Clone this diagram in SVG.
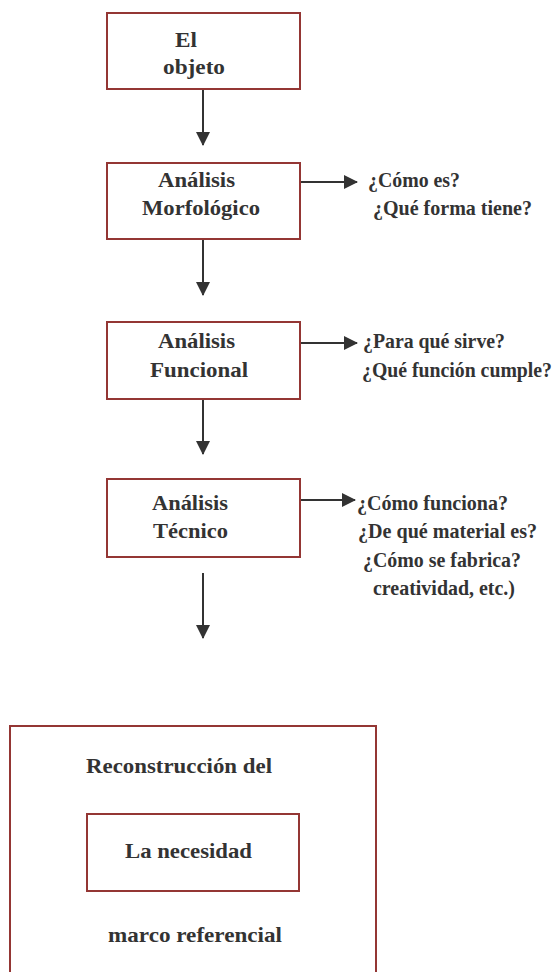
<svg xmlns="http://www.w3.org/2000/svg" width="560" height="972" viewBox="0 0 560 972">
<style>
.box{fill:none;stroke:#943634;stroke-width:2}
.t{font-family:"Liberation Serif","Times New Roman",serif;font-weight:bold;font-size:22px;fill:#333333}
.s{font-size:20px}
.c{stroke:#333333;stroke-width:2;fill:none}
</style>
<defs>
<marker id="ah" viewBox="0 0 14 14" refX="13" refY="7" markerWidth="14" markerHeight="14" markerUnits="userSpaceOnUse" orient="auto">
<path d="M0,0 L14,7 L0,14 Z" fill="#333333"/>
</marker>
</defs>
<rect width="560" height="972" fill="#ffffff"/>
<g id="connectors">
<line class="c" x1="203" y1="89" x2="203" y2="145" marker-end="url(#ah)"/>
<line class="c" x1="300" y1="182" x2="357" y2="182" marker-end="url(#ah)"/>
<line class="c" x1="203" y1="239" x2="203" y2="295" marker-end="url(#ah)"/>
<line class="c" x1="300" y1="343" x2="357" y2="343" marker-end="url(#ah)"/>
<line class="c" x1="203" y1="399" x2="203" y2="454" marker-end="url(#ah)"/>
<line class="c" x1="300" y1="500" x2="355" y2="500" marker-end="url(#ah)"/>
<line class="c" x1="203" y1="573" x2="203" y2="638" marker-end="url(#ah)"/>
</g>
<g id="n1">
<rect class="box" x="107" y="13" width="193" height="76"/>
<text class="t" x="175" y="47" textLength="22" lengthAdjust="spacingAndGlyphs">El</text>
<text class="t" x="163" y="74" textLength="62" lengthAdjust="spacingAndGlyphs">objeto</text>
</g>
<g id="n2">
<rect class="box" x="107" y="163" width="193" height="76"/>
<text class="t" x="158" y="187" textLength="77" lengthAdjust="spacingAndGlyphs">Análisis</text>
<text class="t" x="142" y="215" textLength="118" lengthAdjust="spacingAndGlyphs">Morfológico</text>
</g>
<g id="q2">
<text class="t" x="368" y="187" textLength="92" lengthAdjust="spacingAndGlyphs">¿Cómo es?</text>
<text class="t" x="373" y="215" textLength="159" lengthAdjust="spacingAndGlyphs">¿Qué forma tiene?</text>
</g>
<g id="n3">
<rect class="box" x="107" y="322" width="193" height="77"/>
<text class="t" x="158" y="348" textLength="77" lengthAdjust="spacingAndGlyphs">Análisis</text>
<text class="t" x="150" y="377" textLength="98" lengthAdjust="spacingAndGlyphs">Funcional</text>
</g>
<g id="q3">
<text class="t" x="363" y="348" textLength="142" lengthAdjust="spacingAndGlyphs">¿Para qué sirve?</text>
<text class="t s" x="362" y="377" textLength="190" lengthAdjust="spacingAndGlyphs">¿Qué función cumple?</text>
</g>
<g id="n4">
<rect class="box" x="107" y="479" width="193" height="78"/>
<text class="t" x="152" y="510" textLength="76" lengthAdjust="spacingAndGlyphs">Análisis</text>
<text class="t" x="153" y="538" textLength="75" lengthAdjust="spacingAndGlyphs">Técnico</text>
</g>
<g id="q4">
<text class="t" x="357" y="510" textLength="151" lengthAdjust="spacingAndGlyphs">¿Cómo funciona?</text>
<text class="t" x="358" y="538" textLength="179" lengthAdjust="spacingAndGlyphs">¿De qué material es?</text>
<text class="t" x="363" y="567" textLength="158" lengthAdjust="spacingAndGlyphs">¿Cómo se fabrica?</text>
<text class="t" x="373" y="595" textLength="142" lengthAdjust="spacingAndGlyphs">creatividad, etc.)</text>
</g>
<g id="n5">
<path class="box" d="M10,973 V726 H376 V973"/>
<text class="t" x="86" y="773" textLength="186" lengthAdjust="spacingAndGlyphs">Reconstrucción del</text>
<text class="t" x="108" y="942" textLength="174" lengthAdjust="spacingAndGlyphs">marco referencial</text>
</g>
<g id="n6">
<rect class="box" x="87" y="814" width="212" height="77"/>
<text class="t" x="125" y="858" textLength="127" lengthAdjust="spacingAndGlyphs">La necesidad</text>
</g>
</svg>
